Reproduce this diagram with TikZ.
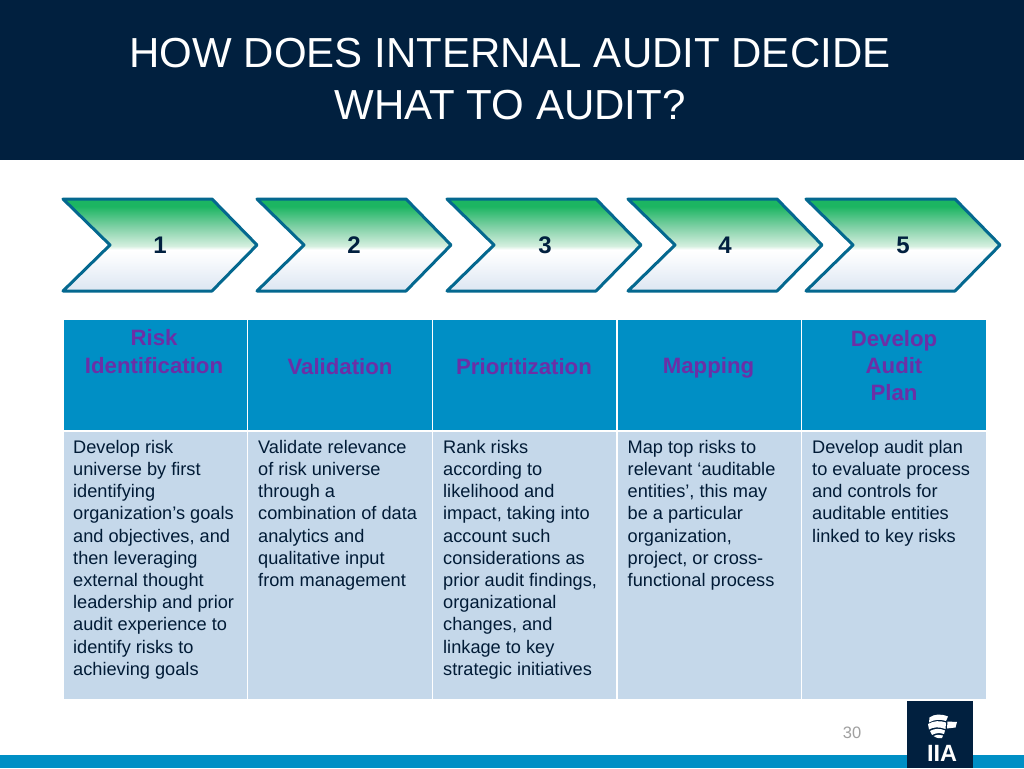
\documentclass[tikz,border=0pt]{standalone}
\usepackage{fontspec}
\setmainfont{Liberation Sans}
\definecolor{navy}{HTML}{01203F}
\definecolor{hdr}{HTML}{008FC5}
\definecolor{cellb}{HTML}{C5D8EA}
\definecolor{edgeb}{HTML}{04688F}
\definecolor{purp}{HTML}{6C2FA6}
\definecolor{gnum}{HTML}{A0A0A0}
\definecolor{gtop}{HTML}{1CB562}
\definecolor{gmid}{HTML}{7FD0A5}
\definecolor{glow}{HTML}{D4EFDF}
\definecolor{gbot}{HTML}{DCE6F2}
\pgfdeclareverticalshading{chevgrad}{100bp}{color(0bp)=(gbot); color(25bp)=(gbot); color(42bp)=(white!80!gbot); color(47.5bp)=(white); color(49.5bp)=(glow); color(60bp)=(gmid); color(71bp)=(gtop); color(100bp)=(gtop)}
\newcommand{\chev}[1]{\shadedraw[chevron] (#1,199) -- (#1+149,199) -- (#1+194,245) -- (#1+149,291) -- (#1,291) -- (#1+47,245) -- cycle;}
\tikzset{
  x=1pt,y=-1pt,
  chevron/.style={shading=chevgrad,draw=edgeb,line width=3pt,line join=round},
  num/.style={font=\bfseries\fontsize{24}{24}\selectfont,text=navy,anchor=center},
  head/.style={fill=hdr,draw=none,minimum height=110pt,minimum width=183.4pt,anchor=north west,inner sep=0pt},
  headtxt/.style={font=\bfseries\fontsize{22.2}{27.3}\selectfont,text=purp,align=center,anchor=center},
  bodycell/.style={fill=cellb,draw=none,minimum height=267pt,minimum width=183.4pt,anchor=north west,inner sep=0pt},
  bodytxt/.style={font=\fontsize{18.2}{22.2}\selectfont,text=navy!85!black,align=left,anchor=north west,inner sep=0pt},
  titletxt/.style={font=\fontsize{42}{52}\selectfont,text=white,align=center,anchor=center},
}
\begin{document}
\begin{tikzpicture}
\useasboundingbox (0,0) rectangle (1024,768);
\fill[white] (0,0) rectangle (1024,768);
\fill[navy] (0,0) rectangle (1024,160);
\node[titletxt] (title) at (510,79) {HOW DOES INTERNAL AUDIT DECIDE\\WHAT TO AUDIT?};
\chev{63}\chev{257}\chev{447}\chev{628}\chev{806}
\node[num] (n1) at (160,245) {1};
\node[num] (n2) at (354,245) {2};
\node[num] (n3) at (545,245) {3};
\node[num] (n4) at (725,245) {4};
\node[num] (n5) at (903,245) {5};
\foreach \x/\n in {63.5/a,248/b,432.7/c,617.3/d,802/e}{
  \node[head] (h\n) at (\x,319.5) {};
  \node[bodycell] (c\n) at (\x,432) {};
}
\node[headtxt] (ta) at (154,351.5) {Risk\\Identification};
\node[headtxt] (tb) at (340,366.5) {Validation};
\node[headtxt] (tc) at (524,366.5) {Prioritization};
\node[headtxt] (td) at (708.5,368) {Mapping};
\node[headtxt] (te) at (894,365.5) {Develop\\Audit\\Plan};
\node[bodytxt] (ba) at (73,440) {Develop risk\\universe by first\\identifying\\organization’s goals\\and objectives, and\\then leveraging\\external thought\\leadership and prior\\audit experience to\\identify risks to\\achieving goals};
\node[bodytxt] (bb) at (258,440) {Validate relevance\\of risk universe\\through a\\combination of data\\analytics and\\qualitative input\\from management};
\node[bodytxt] (bc) at (443,440) {Rank risks\\according to\\likelihood and\\impact, taking into\\account such\\considerations as\\prior audit findings,\\organizational\\changes, and\\linkage to key\\strategic initiatives};
\node[bodytxt] (bd) at (627.5,440) {Map top risks to\\relevant ‘auditable\\entities’, this may\\be a particular\\organization,\\project, or cross-\\functional process};
\node[bodytxt] (be) at (812,440) {Develop audit plan\\to evaluate process\\and controls for\\auditable entities\\linked to key risks};
\fill[hdr] (0,755) rectangle (1024,768);
\fill[navy] (907,701) rectangle (973,768);
\node[font=\fontsize{16.5}{16.5}\selectfont,text=gnum] (pg) at (852,733) {30};
\node[font=\bfseries\fontsize{23.5}{23.5}\selectfont,text=white] (iia) at (942,753) {IIA};
% globe mark
\fill[white] (929.5,717.5) .. controls (934,714) and (941,713.5) .. (948,716.5) -- (946,721) .. controls (940,719) and (934,719.5) .. (929,722.5) -- cycle;
\fill[white] (928,724) .. controls (934,720.5) and (940,720.5) .. (946,722.5) -- (945.5,729) .. controls (939,726.5) and (933,727) .. (929,729.5) -- cycle;
\fill[white] (930,731) .. controls (934,728.5) and (940,728) .. (945,730.5) -- (944,734) .. controls (940,732.5) and (935,733) .. (932,735) -- cycle;
\fill[white] (933.5,736) .. controls (937,734.5) and (940,734.5) .. (943,735.5) -- (942,738) .. controls (940,738.5) and (937,738.5) .. (933.5,736) -- cycle;
\fill[white] (947.5,721.5) -- (957,722) -- (955.5,727.5) -- (947,728.5) -- cycle;
\end{tikzpicture}
\end{document}
